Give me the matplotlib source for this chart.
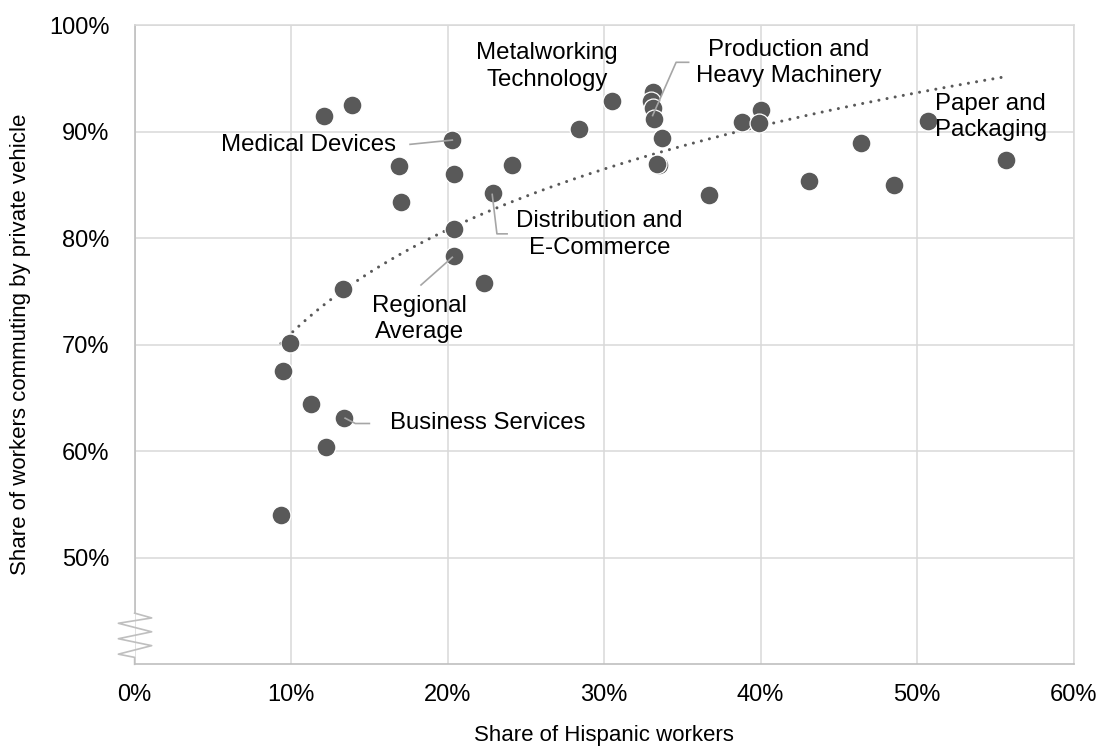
import numpy as np
import matplotlib
matplotlib.use('Agg')
import matplotlib.pyplot as plt
from matplotlib.ticker import PercentFormatter

plt.rcParams['font.family'] = ['Liberation Sans', 'DejaVu Sans']

# Share of Hispanic workers (%) and share commuting by private vehicle (%)
hispanic_share = [12.1, 13.9, 20.3, 16.9, 20.4, 24.1, 22.9, 17.0, 20.4, 20.4,
                  22.3, 13.3, 28.4, 9.9, 9.5, 11.3, 13.4, 12.2, 9.35, 30.5,
                  33.1, 33.0, 33.1, 33.2, 33.7, 33.5, 33.4, 36.7, 38.8, 40.0,
                  39.9, 43.1, 46.4, 48.5, 50.7, 55.7]
vehicle_share = [91.5, 92.5, 89.2, 86.8, 86.0, 86.9, 84.2, 83.4, 80.9, 78.3,
                 75.8, 75.2, 90.2, 70.2, 67.5, 64.4, 63.1, 60.4, 54.0, 92.9,
                 93.7, 92.9, 92.2, 91.2, 89.4, 86.9, 87.0, 84.0, 90.9, 92.0,
                 90.8, 85.4, 88.9, 85.0, 91.0, 87.3]

x_ticks = [0, 10, 20, 30, 40, 50, 60]
y_ticks = [50, 60, 70, 80, 90, 100]

# label text, text position, alignment, leader path (None = no leader)
labels = [
    ('Medical Devices', (16.7, 88.75), 'right', [(17.6, 88.8), (18.6, 88.95), (20.3, 89.2)]),
    ('Metalworking\nTechnology', (26.35, 96.1), 'center', None),
    ('Production and\nHeavy Machinery', (41.8, 96.4), 'center', [(35.4, 96.5), (34.6, 96.5), (33.1, 91.5)]),
    ('Distribution and\nE-Commerce', (29.7, 80.35), 'center', [(22.85, 84.1), (23.15, 80.4), (23.8, 80.4)]),
    ('Regional\nAverage', (18.2, 72.4), 'center', [(18.3, 75.6), (20.3, 78.2)]),
    ('Business Services', (16.3, 62.6), 'left', [(13.45, 63.1), (14.1, 62.6), (15.0, 62.6)]),
    ('Paper and\nPackaging', (54.7, 91.4), 'center', None),
]

point_color = '#595959'
grid_color = '#d9d9d9'
spine_color = '#bfbfbf'

fig = plt.figure(figsize=(10.99, 7.49), dpi=100)
ax = fig.add_axes([0.1225, 0.1131, 0.8544, 0.8535])

x = np.array(hispanic_share)
y = np.array(vehicle_share)

# logarithmic trend line (like the spreadsheet trendline)
b, a = np.polyfit(np.log(x), y, 1)
xt = np.linspace(x.min(), x.max(), 200)
ax.plot(xt, a + b * np.log(xt), color=point_color, lw=2.2,
        linestyle=(0, (0.01, 2.7)), dash_capstyle='round', zorder=3)

ax.scatter(x, y, s=185, color=point_color, edgecolor='white', linewidth=0.9, zorder=4)

for text, pos, ha, path in labels:
    ax.text(pos[0], pos[1], text, ha=ha, va='center', fontsize=17.3,
            linespacing=1.25, zorder=6)
    if path:
        px, py = zip(*path)
        ax.plot(px, py, color='#a6a6a6', lw=1.2, zorder=5)

ax.set_xlim(0, 60)
ax.set_ylim(40, 100)
ax.set_xticks(x_ticks)
ax.set_yticks(y_ticks)
ax.xaxis.set_major_formatter(PercentFormatter(decimals=0))
ax.yaxis.set_major_formatter(PercentFormatter(decimals=0))
ax.tick_params(length=0, labelsize=17, colors='black')
ax.tick_params(axis='x', pad=14)
ax.tick_params(axis='y', pad=18)
ax.grid(True, color=grid_color, lw=1.1, zorder=0)
ax.set_axisbelow(True)

for side in ['top', 'right']:
    ax.spines[side].set_color(grid_color)
    ax.spines[side].set_linewidth(1.1)
for side in ['left', 'bottom']:
    ax.spines[side].set_color(spine_color)
    ax.spines[side].set_linewidth(1.2)
ax.spines['left'].set_bounds(44.8, 100)

# axis break zigzag on the y axis
zz_x = [0, 1.09, -1.04, 1.09, -1.04, 1.09, -1.04, 0, 0]
zz_y = [44.8, 44.35, 43.85, 43.05, 42.4, 41.75, 40.95, 40.65, 40]
ax.plot(zz_x, zz_y, color=spine_color, lw=1.2, clip_on=False, zorder=5)

ax.set_xlabel('Share of Hispanic workers', fontsize=16, labelpad=14)
ax.set_ylabel('Share of workers commuting by private vehicle', fontsize=16, labelpad=13)

plt.savefig('out.png', dpi=100)
